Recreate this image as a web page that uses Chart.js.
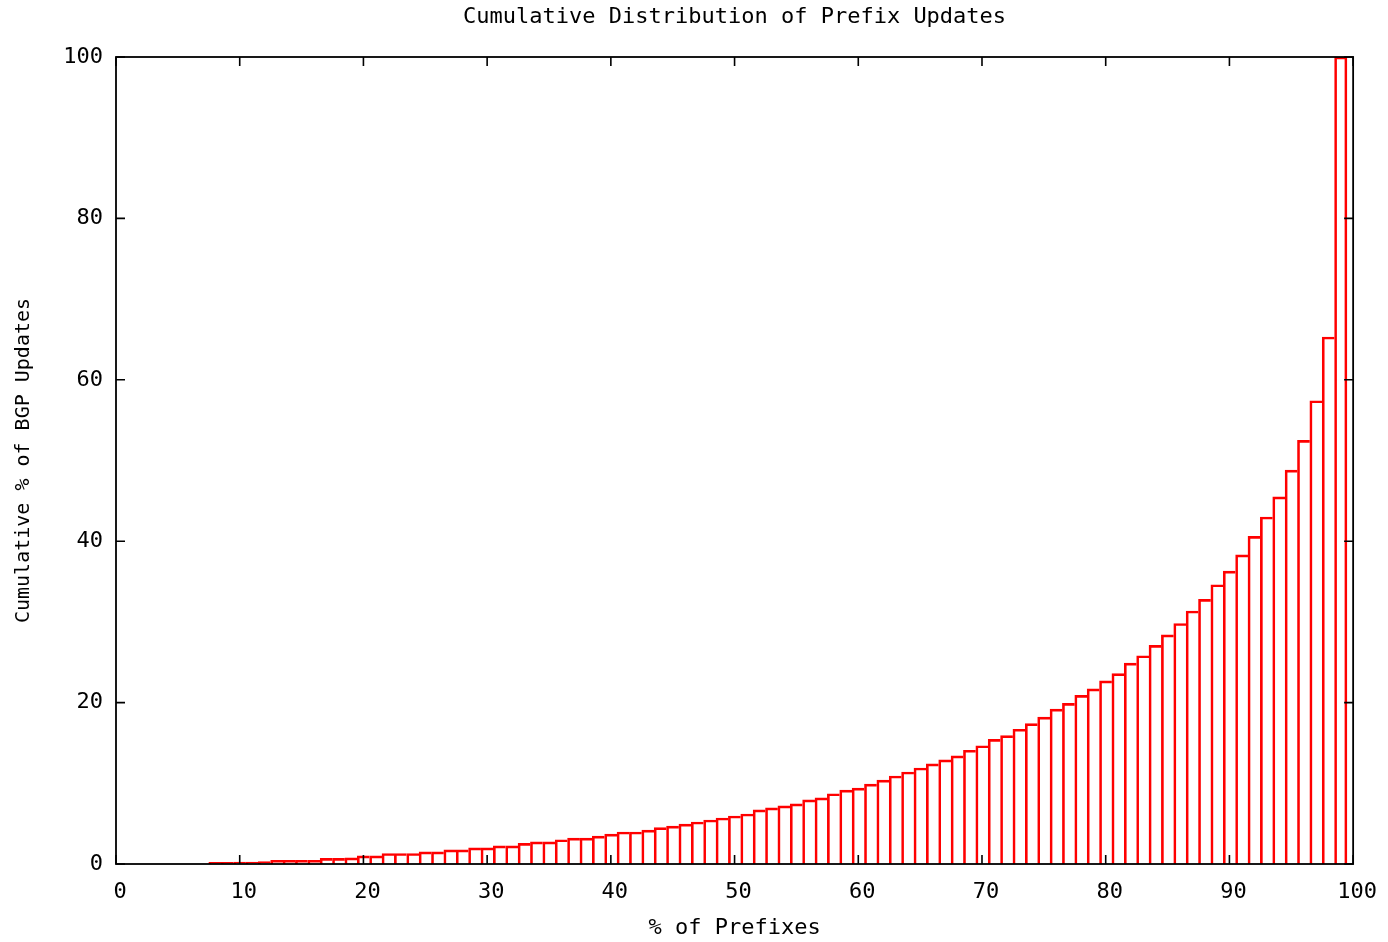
<!DOCTYPE html>
<html>
<head>
<meta charset="utf-8">
<script src="https://cdn.jsdelivr.net/npm/chart.js@4/dist/chart.umd.min.js"></script>
<style>
  html, body { margin: 0; padding: 0; background: #ffffff; }
  #wrap { width: 1388px; height: 942px; position: relative; }
</style>
</head>
<body>
<div id="wrap"><canvas id="c"></canvas></div>
<script>
// ---- data ----
const chartTitle = 'Cumulative Distribution of Prefix Updates';
const xAxisTitle = '% of Prefixes';
const yAxisTitle = 'Cumulative % of BGP Updates';

const prefixPercent = [
  8, 9, 10, 11, 12, 13, 14, 15, 16, 17, 18, 19, 20, 21, 22, 23, 24, 25, 26, 27,
  28, 29, 30, 31, 32, 33, 34, 35, 36, 37, 38, 39, 40, 41, 42, 43, 44, 45, 46, 47,
  48, 49, 50, 51, 52, 53, 54, 55, 56, 57, 58, 59, 60, 61, 62, 63, 64, 65, 66, 67,
  68, 69, 70, 71, 72, 73, 74, 75, 76, 77, 78, 79, 80, 81, 82, 83, 84, 85, 86, 87,
  88, 89, 90, 91, 92, 93, 94, 95, 96, 97, 98, 99
];
const cumulativeUpdates = [
  0.2, 0.2, 0.25, 0.25, 0.3, 0.45, 0.45, 0.45, 0.45, 0.7, 0.7, 0.75, 1.0, 1.0, 1.3, 1.3, 1.3, 1.5, 1.5, 1.75,
  1.75, 2.0, 2.0, 2.25, 2.25, 2.55, 2.75, 2.75, 3.0, 3.2, 3.2, 3.45, 3.7, 3.97, 3.97, 4.2, 4.5, 4.7, 4.95, 5.2,
  5.45, 5.7, 5.95, 6.2, 6.7, 6.95, 7.2, 7.45, 7.95, 8.2, 8.7, 9.15, 9.4, 9.9, 10.4, 10.9, 11.4, 11.9, 12.4, 12.9,
  13.4, 14.1, 14.65, 15.45, 15.9, 16.7, 17.4, 18.2, 19.2, 19.9, 20.9, 21.7, 22.7, 23.6, 24.9, 25.8, 27.1, 28.4, 29.8, 31.35,
  32.8, 34.6, 36.3, 38.3, 40.6, 43.0, 45.5, 48.8, 52.5, 57.4, 65.3, 100
];
const xTicks = [0, 10, 20, 30, 40, 50, 60, 70, 80, 90, 100];
const yTicks = [0, 20, 40, 60, 80, 100];

// ---- chart ----
const FONT = '"DejaVu Sans Mono", "Liberation Mono", monospace';
const TICK_LEN = 9;

const framePlugin = {
  id: 'frame',
  afterDatasetsDraw(chart) {
    const { ctx, chartArea: a, scales } = chart;
    const x = scales.x, y = scales.y;
    ctx.save();
    ctx.strokeStyle = '#000000';
    ctx.lineWidth = 1.6;
    ctx.beginPath();
    xTicks.forEach(v => {
      const px = x.getPixelForValue(v);
      ctx.moveTo(px, a.bottom); ctx.lineTo(px, a.bottom - TICK_LEN);
      ctx.moveTo(px, a.top); ctx.lineTo(px, a.top + TICK_LEN);
    });
    yTicks.forEach(v => {
      const py = y.getPixelForValue(v);
      ctx.moveTo(a.left, py); ctx.lineTo(a.left + TICK_LEN, py);
      ctx.moveTo(a.right, py); ctx.lineTo(a.right - TICK_LEN, py);
    });
    ctx.stroke();
    ctx.lineWidth = 1.8;
    ctx.strokeRect(a.left, a.top, a.right - a.left, a.bottom - a.top);
    ctx.restore();
  }
};

const lastIndex = prefixPercent.length - 1;

new Chart(document.getElementById('c'), {
  type: 'bar',
  data: {
    datasets: [{
      data: prefixPercent.map((p, i) => ({ x: p, y: cumulativeUpdates[i] })),
      backgroundColor: 'rgba(0,0,0,0)',
      borderColor: '#ff0000',
      borderWidth: ctx => ({ left: 2, top: 2, bottom: 0, right: ctx.dataIndex === lastIndex ? 2 : 0 }),
      borderSkipped: 'start',
      barPercentage: 1.0,
      categoryPercentage: 1.0
    }]
  },
  options: {
    responsive: true,
    maintainAspectRatio: false,
    animation: false,
    events: [],
    layout: { padding: { left: 0, right: 34, top: 0, bottom: 0 } },
    plugins: {
      legend: { display: false },
      tooltip: { enabled: false },
      title: {
        display: true,
        text: chartTitle,
        fullSize: false,
        color: '#000000',
        font: { family: FONT, size: 22, weight: 'normal', lineHeight: 1.2 },
        padding: { top: 4, bottom: 26.6 }
      }
    },
    scales: {
      x: {
        type: 'linear',
        min: 0,
        max: 100,
        offset: false,
        grid: { display: false, drawTicks: false, offset: false },
        border: { display: false },
        afterBuildTicks: s => { s.ticks = xTicks.map(v => ({ value: v })); },
        afterFit: s => { s.height = 78; },
        ticks: {
          color: '#000000',
          font: { family: FONT, size: 22, lineHeight: 1.2 },
          padding: 15,
          labelOffset: 4,
          maxRotation: 0,
          autoSkip: false
        },
        title: {
          display: true,
          text: xAxisTitle,
          color: '#000000',
          font: { family: FONT, size: 22, lineHeight: 1.0 },
          padding: { top: 0, bottom: 3 }
        }
      },
      y: {
        type: 'linear',
        min: 0,
        max: 100,
        grid: { display: false, drawTicks: false },
        border: { display: false },
        afterBuildTicks: s => { s.ticks = yTicks.map(v => ({ value: v })); },
        afterFit: s => { s.width = 116; },
        ticks: {
          color: '#000000',
          font: { family: FONT, size: 22, lineHeight: 1.2 },
          padding: 13,
          autoSkip: false
        },
        title: {
          display: true,
          text: yAxisTitle,
          color: '#000000',
          font: { family: FONT, size: 20, lineHeight: 1.2 },
          padding: { top: 12, bottom: 0 }
        }
      }
    }
  },
  plugins: [framePlugin]
});
</script>
</body>
</html>
